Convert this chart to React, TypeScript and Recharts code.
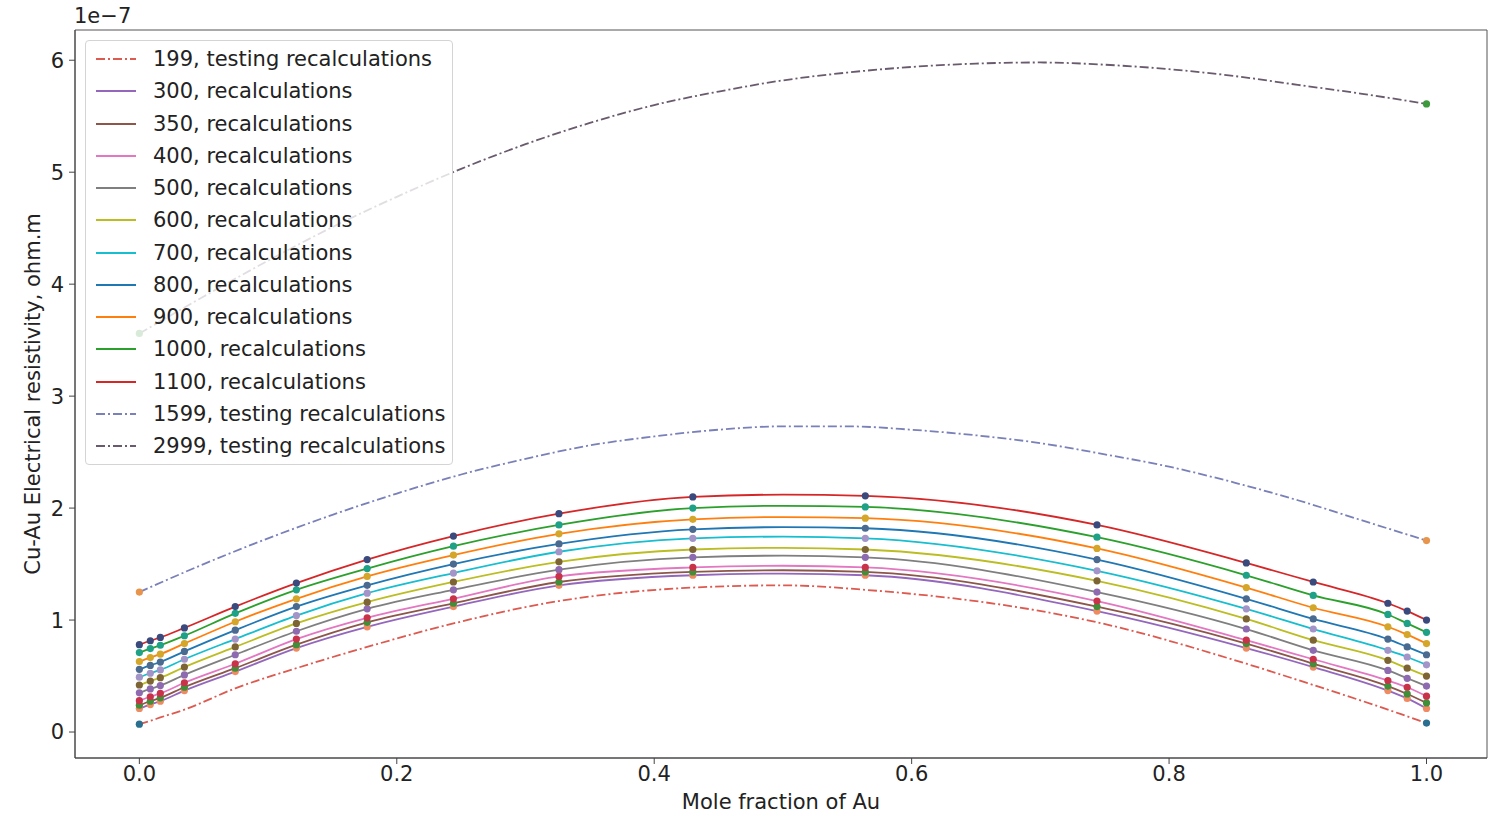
import { ComposedChart, Line, Scatter, XAxis, YAxis, ReferenceArea } from 'recharts';

// mole fraction of Au where the curves are sampled (0.5 is a curve-only point)
const X_LINE = [0, 0.0085, 0.0163, 0.035, 0.0745, 0.122, 0.177, 0.244, 0.326, 0.43, 0.5, 0.564, 0.744, 0.86, 0.912, 0.97, 0.985, 1.0];
const X_MARKERS = [0, 0.0085, 0.0163, 0.035, 0.0745, 0.122, 0.177, 0.244, 0.326, 0.43, 0.564, 0.744, 0.86, 0.912, 0.97, 0.985, 1.0];
const X_TEST = [0, 0.05, 0.1, 0.15, 0.2, 0.25, 0.3, 0.35, 0.4, 0.45, 0.5, 0.55, 0.6, 0.65, 0.7, 0.75, 0.8, 0.85, 0.9, 0.95, 1.0];

// resistivity in units of 1e-7 ohm.m
const R199 = [0.07, 0.1, 0.13, 0.2, 0.39, 0.57, 0.76, 0.97, 1.17, 1.29, 1.31, 1.27, 0.98, 0.61, 0.42, 0.2, 0.14, 0.08];
const R300 = [0.21, 0.245, 0.275, 0.37, 0.54, 0.75, 0.94, 1.12, 1.31, 1.4, 1.415, 1.4, 1.08, 0.75, 0.58, 0.37, 0.3, 0.21];
const R350 = [0.24, 0.275, 0.305, 0.4, 0.57, 0.78, 0.98, 1.15, 1.34, 1.43, 1.445, 1.43, 1.12, 0.79, 0.61, 0.41, 0.34, 0.26];
const R400 = [0.28, 0.315, 0.345, 0.44, 0.61, 0.83, 1.02, 1.19, 1.39, 1.47, 1.485, 1.47, 1.17, 0.82, 0.65, 0.46, 0.4, 0.32];
const R500 = [0.35, 0.385, 0.415, 0.51, 0.69, 0.9, 1.1, 1.27, 1.45, 1.56, 1.575, 1.56, 1.25, 0.92, 0.73, 0.55, 0.48, 0.41];
const R600 = [0.42, 0.455, 0.485, 0.58, 0.76, 0.97, 1.16, 1.34, 1.52, 1.63, 1.645, 1.63, 1.35, 1.01, 0.82, 0.64, 0.57, 0.5];
const R700 = [0.49, 0.525, 0.555, 0.65, 0.83, 1.04, 1.24, 1.42, 1.61, 1.73, 1.745, 1.73, 1.44, 1.1, 0.92, 0.73, 0.67, 0.6];
const R800 = [0.56, 0.595, 0.625, 0.72, 0.91, 1.12, 1.31, 1.5, 1.68, 1.81, 1.83, 1.82, 1.54, 1.19, 1.01, 0.83, 0.76, 0.69];
const R900 = [0.63, 0.665, 0.695, 0.79, 0.985, 1.19, 1.39, 1.58, 1.77, 1.9, 1.92, 1.91, 1.64, 1.29, 1.11, 0.94, 0.87, 0.79];
const R1000 = [0.71, 0.745, 0.775, 0.86, 1.06, 1.27, 1.46, 1.66, 1.85, 2.0, 2.02, 2.01, 1.74, 1.4, 1.22, 1.05, 0.97, 0.89];
const R1100 = [0.78, 0.815, 0.845, 0.93, 1.12, 1.33, 1.54, 1.75, 1.95, 2.1, 2.12, 2.11, 1.85, 1.51, 1.34, 1.15, 1.08, 1.0];
const R1599 = [1.25, 1.5, 1.73, 1.94, 2.13, 2.3, 2.44, 2.56, 2.64, 2.7, 2.73, 2.73, 2.7, 2.65, 2.58, 2.48, 2.37, 2.23, 2.07, 1.89, 1.71];
const R2999 = [3.56, 3.89, 4.21, 4.51, 4.78, 5.03, 5.25, 5.44, 5.6, 5.72, 5.82, 5.89, 5.94, 5.97, 5.98, 5.96, 5.92, 5.86, 5.78, 5.7, 5.61];

const X_TICKS = [0, 0.2, 0.4, 0.6, 0.8, 1.0];
const Y_TICKS = [0, 1, 2, 3, 4, 5, 6];
const X_DOMAIN = [-0.05, 1.047];
const Y_DOMAIN = [-0.232, 6.27];

const FONT = '"DejaVu Sans", sans-serif';
const FS = 21;
const DASHDOT = '9 3 2 3';

type Series = {
  name: string;
  xs: number[];
  values: number[];
  color: string;
  marker: string;
  dashed: boolean;
  endsOnly: boolean;
};

const SERIES: Series[] = [
  { name: '199, testing recalculations', xs: X_LINE, values: R199, color: '#dc5a50', marker: '#2a6f8f', dashed: true, endsOnly: true },
  { name: '300, recalculations', xs: X_LINE, values: R300, color: '#9467bd', marker: '#ef8a62', dashed: false, endsOnly: false },
  { name: '350, recalculations', xs: X_LINE, values: R350, color: '#8c564b', marker: '#3f8f3a', dashed: false, endsOnly: false },
  { name: '400, recalculations', xs: X_LINE, values: R400, color: '#e377c2', marker: '#c8334a', dashed: false, endsOnly: false },
  { name: '500, recalculations', xs: X_LINE, values: R500, color: '#7f7f7f', marker: '#8e6bb0', dashed: false, endsOnly: false },
  { name: '600, recalculations', xs: X_LINE, values: R600, color: '#bcbd22', marker: '#7d6435', dashed: false, endsOnly: false },
  { name: '700, recalculations', xs: X_LINE, values: R700, color: '#17becf', marker: '#a395c8', dashed: false, endsOnly: false },
  { name: '800, recalculations', xs: X_LINE, values: R800, color: '#1f77b4', marker: '#4a6a8f', dashed: false, endsOnly: false },
  { name: '900, recalculations', xs: X_LINE, values: R900, color: '#ff7f0e', marker: '#d4a62a', dashed: false, endsOnly: false },
  { name: '1000, recalculations', xs: X_LINE, values: R1000, color: '#2ca02c', marker: '#1fa187', dashed: false, endsOnly: false },
  { name: '1100, recalculations', xs: X_LINE, values: R1100, color: '#d62728', marker: '#3b4a7d', dashed: false, endsOnly: false },
  { name: '1599, testing recalculations', xs: X_TEST, values: R1599, color: '#7a80b8', marker: '#e8944a', dashed: true, endsOnly: true },
  { name: '2999, testing recalculations', xs: X_TEST, values: R2999, color: '#6a5a6e', marker: '#3c9a3c', dashed: true, endsOnly: true },
];

function linePoints(s: Series) {
  return s.xs.map((x, i) => ({ x, y: s.values[i] }));
}

function markerPoints(s: Series) {
  const pts = linePoints(s);
  if (s.endsOnly) return [pts[0], pts[pts.length - 1]];
  return pts.filter((p) => X_MARKERS.includes(p.x));
}

function Dot(color: string) {
  return (props: any) => <circle cx={props.cx} cy={props.cy} r={3.6} fill={color} />;
}

function LegendBox() {
  return (
    <div
      style={{
        position: 'absolute',
        left: 85,
        top: 40,
        width: 368,
        height: 425,
        boxSizing: 'border-box',
        border: '1px solid #d4d4d4',
        borderRadius: 4,
        background: 'rgba(255,255,255,0.8)',
        fontFamily: FONT,
        fontSize: FS,
        color: '#222',
      }}
    >
      {SERIES.map((s, i) => (
        <div
          key={s.name}
          style={{ position: 'absolute', left: 9, top: 18 + i * 32.25 - 14, height: 28, display: 'flex', alignItems: 'center', whiteSpace: 'nowrap' }}
        >
          <svg width={42} height={10} style={{ marginRight: 16 }}>
            <line x1={1} y1={5} x2={41} y2={5} stroke={s.color} strokeWidth={2} strokeDasharray={s.dashed ? DASHDOT : undefined} />
          </svg>
          <span>{s.name}</span>
        </div>
      ))}
    </div>
  );
}

export default function App() {
  return (
    <div style={{ position: 'absolute', left: 0, top: 0, width: 1489, height: 816, overflow: 'hidden', background: '#fff' }}>
      <ComposedChart width={1489} height={816} margin={{ top: 30, right: 2, bottom: 0, left: 15 }}>
        <XAxis
          type="number"
          dataKey="x"
          domain={X_DOMAIN}
          ticks={X_TICKS}
          allowDataOverflow
          height={58}
          tickFormatter={(v: number) => v.toFixed(1)}
          tick={{ fontSize: FS, fill: '#222', fontFamily: FONT }}
          tickSize={6}
          tickMargin={2}
          tickLine={{ stroke: '#444' }}
          axisLine={{ stroke: '#444' }}
          label={{ value: 'Mole fraction of Au', position: 'insideBottom', offset: 7, fontSize: FS, fill: '#222', fontFamily: FONT }}
        />
        <YAxis
          type="number"
          domain={Y_DOMAIN}
          ticks={Y_TICKS}
          allowDataOverflow
          width={60}
          tick={{ fontSize: FS, fill: '#222', fontFamily: FONT }}
          tickSize={6}
          tickMargin={5}
          tickLine={{ stroke: '#444' }}
          axisLine={{ stroke: '#444' }}
          label={{
            value: 'Cu-Au Electrical resistivity, ohm.m',
            angle: -90,
            position: 'insideLeft',
            offset: 18,
            fontSize: FS,
            fill: '#222',
            fontFamily: FONT,
            style: { textAnchor: 'middle' },
          }}
        />
        <ReferenceArea x1={X_DOMAIN[0]} x2={X_DOMAIN[1]} y1={Y_DOMAIN[0]} y2={Y_DOMAIN[1]} fill="none" stroke="#555" strokeWidth={1} />
        {SERIES.map((s) => (
          <Line
            key={`line-${s.name}`}
            data={linePoints(s)}
            dataKey="y"
            type="monotone"
            stroke={s.color}
            strokeWidth={1.8}
            strokeDasharray={s.dashed ? DASHDOT : undefined}
            dot={false}
            activeDot={false}
            isAnimationActive={false}
          />
        ))}
        {SERIES.map((s) => (
          <Scatter
            key={`dots-${s.name}`}
            data={markerPoints(s)}
            dataKey="y"
            shape={Dot(s.marker)}
            isAnimationActive={false}
          />
        ))}
      </ComposedChart>
      <div style={{ position: 'absolute', left: 74, top: 4, fontFamily: FONT, fontSize: FS, color: '#222' }}>1e−7</div>
      <LegendBox />
    </div>
  );
}
